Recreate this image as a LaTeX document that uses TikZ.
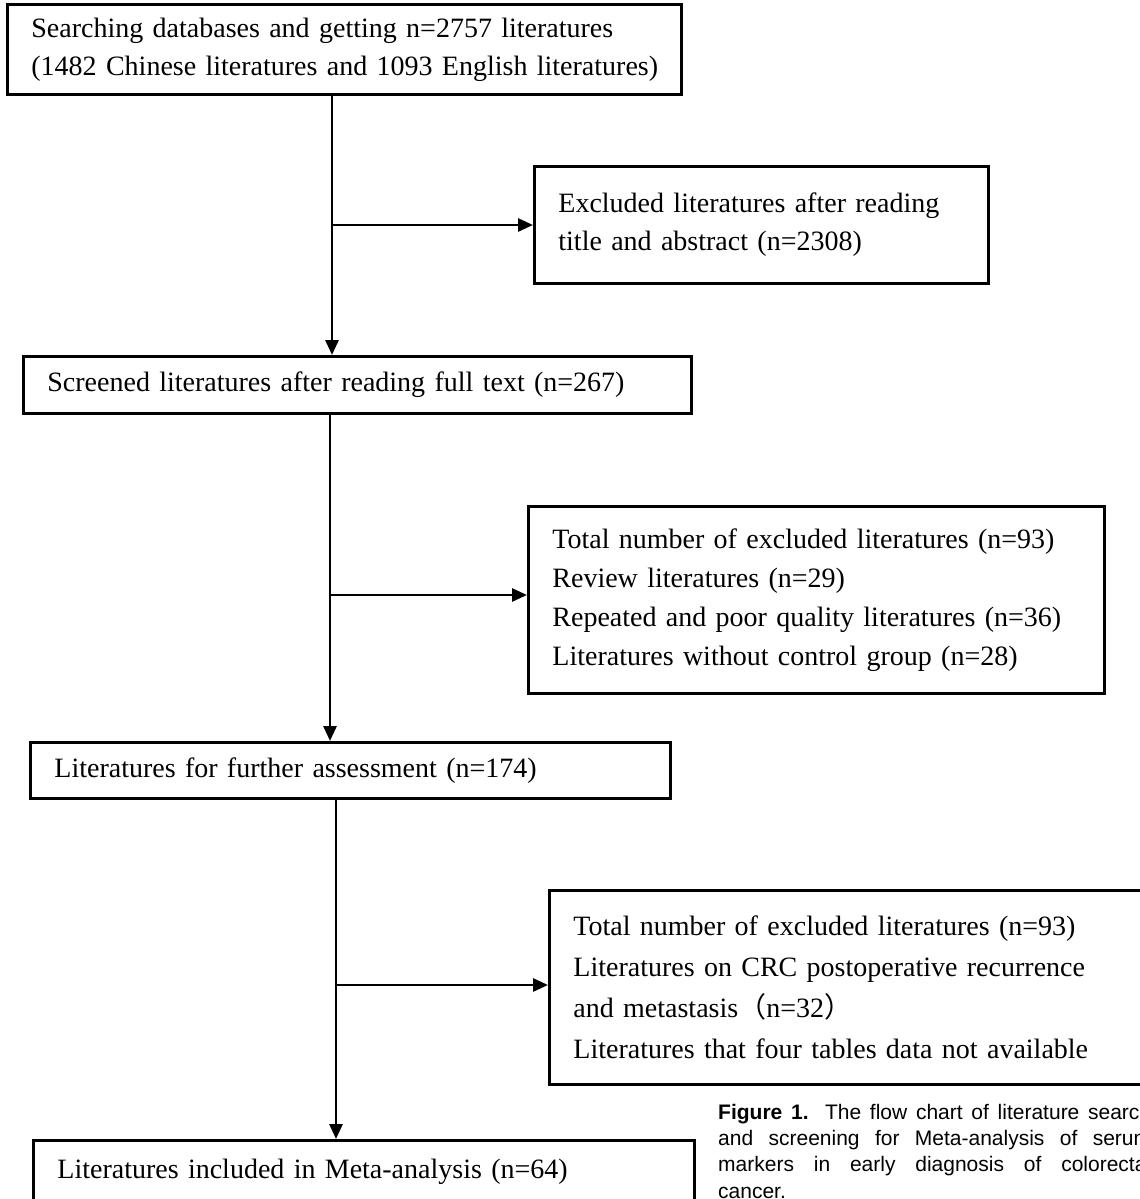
\documentclass[tikz,border=0pt]{standalone}
\usepackage{fontspec}
\setmainfont[WordSpace=0.65]{Liberation Serif}
\newfontfamily\capfont{Liberation Sans}
\newfontfamily\cjk{Noto Sans CJK SC}
\usetikzlibrary{arrows.meta}
\begin{document}
\begin{tikzpicture}[x=1pt,y=-1pt,
  box/.style={draw, line width=2.8pt, anchor=north west, align=left, inner xsep=24pt, inner ysep=0pt,
    font=\fontsize{28}{38}\selectfont},
  flow/.style={line width=2.8pt, -{Triangle[length=15pt,width=13pt]}},
  caption/.style={anchor=north west, align=justify, inner sep=0pt, text width=433pt,
    font=\capfont\fontsize{21}{26.2}\selectfont}
]
\useasboundingbox (0,0) rectangle (1140,1199);
\clip (0,0) rectangle (1140,1199);
\fill[white] (0,0) rectangle (1140,1199);

\node[box, minimum width=674pt, minimum height=90pt, text width=626pt] (b1) at (6,3)
  {\mbox{Searching databases and getting n=2757 literatures}\\\mbox{(1482 Chinese literatures and 1093 English literatures)}};
\node[box, minimum width=454pt, minimum height=117pt, text width=406pt] (e1) at (533,165)
  {\mbox{Excluded literatures after reading}\\\mbox{title and abstract (n=2308)}};
\node[box, minimum width=668pt, minimum height=57pt, text width=620pt] (b2) at (22,355)
  {\mbox{Screened literatures after reading full text (n=267)}};
\node[box, minimum width=576pt, minimum height=187pt, text width=528pt, font=\fontsize{28}{39}\selectfont] (e2) at (527,505)
  {\mbox{Total number of excluded literatures (n=93)}\\\mbox{Review literatures (n=29)}\\\mbox{Repeated and poor quality literatures (n=36)}\\\mbox{Literatures without control group (n=28)}};
\node[box, minimum width=640pt, minimum height=56pt, text width=592pt] (b3) at (29,741)
  {\mbox{Literatures for further assessment (n=174)}};
\node[box, minimum width=620pt, minimum height=194pt, text width=572pt, font=\fontsize{28}{41}\selectfont] (e3) at (548,889)
  {\mbox{Total number of excluded literatures (n=93)}\\\mbox{Literatures on CRC postoperative recurrence}\\\mbox{and metastasis{\cjk（}n=32{\cjk）}}\\\mbox{Literatures that four tables data not available}};
\node[box, minimum width=661pt, minimum height=62pt, text width=613pt] (b4) at (32,1139)
  {\mbox{Literatures included in Meta-analysis (n=64)}};

\node[caption] (cap) at (718,1104)
  {\textbf{Figure 1.} The flow chart of literature search\linebreak and screening for Meta-analysis of serum\linebreak markers in early diagnosis of colorectal\linebreak cancer.};

\coordinate (x1) at (332,0);
\coordinate (x2) at (330,0);
\coordinate (x3) at (336,0);
\coordinate (j1) at (332,225);
\coordinate (j2) at (330,595);
\coordinate (j3) at (336,985);

\draw[flow] (x1 |- b1.south) -- (x1 |- b2.north);
\draw[flow] (j1) -- (j1 -| e1.west);
\draw[flow] (x2 |- b2.south) -- (x2 |- b3.north);
\draw[flow] (j2) -- (j2 -| e2.west);
\draw[flow] (x3 |- b3.south) -- (x3 |- b4.north);
\draw[flow] (j3) -- (j3 -| e3.west);
\end{tikzpicture}
\end{document}
